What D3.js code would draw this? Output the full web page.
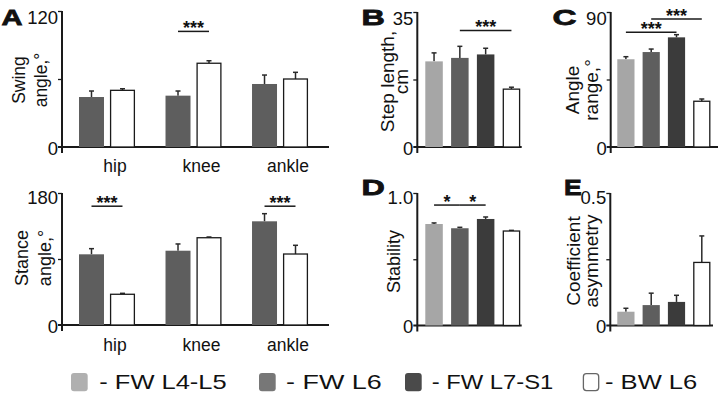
<!DOCTYPE html>
<html><head><meta charset="utf-8">
<script src="https://cdn.jsdelivr.net/npm/d3@7"></script>
<style>
body{margin:0;background:#fff}
svg{display:block}
text{font-family:"Liberation Sans",Arial,Helvetica,sans-serif;fill:#111}
</style>
</head><body>
<svg id="c" width="720" height="394"></svg>
<script>
// ---------------- DATA ----------------
const joints = ["hip", "knee", "ankle"];
const jointSeries = ["FW L6", "BW L6"];
const swingFW = [44.1, 45.3, 55.6];
const swingFWErr = [5.3, 4.1, 7.9];
const swingBW = [50.0, 73.9, 60.0];
const swingBWErr = [1.4, 2.2, 5.9];
const stanceFW = [96.4, 101.3, 141.4];
const stanceFWErr = [7.7, 9.2, 10.4];
const stanceBW = [41.9, 119.0, 96.8];
const stanceBWErr = [1.3, 1.0, 11.9];

const groups = ["FW L4-L5", "FW L6", "FW L7-S1", "BW L6"];
const stepLength = [22.2, 23.1, 24.0, 15.0];
const stepLengthErr = [2.2, 3.0, 1.6, 0.5];
const angleRange = [58.5, 63.3, 73.1, 30.5];
const angleRangeErr = [1.7, 2.0, 1.8, 1.5];
const stability = [0.766, 0.734, 0.804, 0.713];
const stabilityErr = [0.008, 0.007, 0.015, 0.005];
const asymmetry = [0.052, 0.077, 0.089, 0.238];
const asymmetryErr = [0.013, 0.045, 0.025, 0.100];

const swingTicks = [0, 60, 120];      const swingTickLabels = ["0", "", "120"];
const stanceTicks = [0, 90, 180];     const stanceTickLabels = ["0", "", "180"];
const stepTicks = [0, 17.5, 35];      const stepTickLabels = ["0", "", "35"];
const angleTicks = [0, 45, 90];       const angleTickLabels = ["0", "", "90"];
const stabTicks = [0, 0.5, 1.0];      const stabTickLabels = ["0", "", "1.0"];
const asymTicks = [0, 0.25, 0.5];     const asymTickLabels = ["0", "", "0.5"];

// significance: [category/group from, to, level (data units), label]
const swingSig = [["knee", "knee", 102, "***"]];
const stanceSig = [["hip", "hip", 162, "***"], ["ankle", "ankle", 162, "***"]];
const stepSig = [["FW L6", "BW L6", 30.2, "***"]];
const angleSig = [["FW L4-L5", "FW L7-S1", 76.5, "***"], ["FW L6", "BW L6", 85.3, "***"]];
const stabSig = [["FW L4-L5", "FW L6", 0.909, "*"], ["FW L6", "FW L7-S1", 0.909, "*"]];

// ---------------- STYLE ----------------
const barColor = {"FW L4-L5": "#a6a6a6", "FW L6": "#5e5e5e", "FW L7-S1": "#3b3b3b", "BW L6": "#ffffff"};
const legendColor = {"FW L4-L5": "#b0b0b0", "FW L6": "#777777", "FW L7-S1": "#4a4a4a", "BW L6": "#ffffff"};
const ink = "#1a1a1a";

const svg = d3.select("#c");

function drawAxes(y, ax, xEnd, ticks, labels, topDy) {
  const g = svg.append("g").attr("transform", `translate(${ax},0)`);
  g.call(d3.axisLeft(y).tickValues(ticks).tickSize(4).tickSizeOuter(0).tickPadding(0)
    .tickFormat((d, i) => labels[i]));
  g.select(".domain").remove();
  g.selectAll(".tick line").attr("stroke", ink).attr("stroke-width", 1.3)
    .attr("display", d => d === 0 ? "none" : null);
  g.selectAll(".tick text").attr("font-size", 18.5).attr("fill", "#111")
    .attr("font-family", '"Liberation Sans",Arial,sans-serif')
    .attr("x", -4)
    .attr("dy", (d, i) => i === 0 ? 7 : (i === ticks.length - 1 ? topDy : 0));
  const [r0, r1] = y.range();
  svg.append("line").attr("x1", ax).attr("x2", ax).attr("y1", r0 + 6).attr("y2", r1)
    .attr("stroke", ink).attr("stroke-width", 2);
  svg.append("line").attr("x1", ax - 4).attr("x2", xEnd).attr("y1", r0).attr("y2", r0)
    .attr("stroke", ink).attr("stroke-width", 2);
}

function bar(x, w, y, v, err, fill) {
  const y0 = y.range()[0];
  const cx = x + w / 2;
  svg.append("line").attr("x1", cx).attr("x2", cx).attr("y1", y(v)).attr("y2", y(v + err))
    .attr("stroke", "#2a2a2a").attr("stroke-width", 1.5);
  svg.append("line").attr("x1", cx - 2.5).attr("x2", cx + 2.5).attr("y1", y(v + err)).attr("y2", y(v + err))
    .attr("stroke", "#2a2a2a").attr("stroke-width", 1.5);
  const white = fill === "#ffffff";
  svg.append("rect").attr("x", white ? x + 0.6 : x).attr("y", y(v))
    .attr("width", white ? w - 1.2 : w).attr("height", y0 - y(v))
    .attr("fill", fill).attr("stroke", white ? ink : "none").attr("stroke-width", 1.3);
}

function sig(x1, x2, yy, label) {
  svg.append("line").attr("x1", x1).attr("x2", x2).attr("y1", yy).attr("y2", yy)
    .attr("stroke", ink).attr("stroke-width", 1.5);
  svg.append("text").attr("x", (x1 + x2) / 2).attr("y", yy + 2.5).attr("text-anchor", "middle")
    .attr("font-size", 18).attr("font-weight", "bold").text(label);
}

function yTitle(lines, cx, cy, size) {
  lines.forEach(([t, bx]) => {
    svg.append("text").attr("transform", `translate(${bx},${cy}) rotate(-90)`)
      .attr("text-anchor", "middle").attr("font-size", size).text(t);
  });
}

function letter(t, x, yb, len) {
  svg.append("text").attr("x", x).attr("y", yb).attr("font-size", 22.5).attr("font-weight", "bold")
    .attr("stroke", "#111").attr("stroke-width", 0.8)
    .attr("textLength", len).attr("lengthAdjust", "spacingAndGlyphs").text(t);
}

// ---------------- PANEL A ----------------
const xJ = d3.scaleBand().domain(joints).range([79, 308]).paddingInner(0.353).paddingOuter(0);
const xJs = d3.scaleBand().domain(jointSeries).range([0, xJ.bandwidth()]).paddingInner(0.1935).paddingOuter(0);

function jointPanel(y, fw, fwErr, bw, bwErr, ticks, labels, topDy, sigs, labelY) {
  drawAxes(y, 62, 329, ticks, labels, topDy);
  joints.forEach((j, i) => {
    bar(xJ(j) + xJs("FW L6"), xJs.bandwidth(), y, fw[i], fwErr[i], barColor["FW L6"]);
    bar(xJ(j) + xJs("BW L6"), xJs.bandwidth(), y, bw[i], bwErr[i], barColor["BW L6"]);
    svg.append("text").attr("x", xJ(j) + xJ.bandwidth() / 2 + 8).attr("y", labelY)
      .attr("text-anchor", "middle").attr("font-size", 17.5).text(j);
  });
  sigs.forEach(([a, b, lv, lab]) => {
    const x1 = xJ(a) + xJs("FW L6") + xJs.bandwidth() / 2;
    const x2 = xJ(b) + xJs("BW L6") + xJs.bandwidth() / 2;
    sig(x1, x2, y(lv), lab);
  });
}

const ySwing = d3.scaleLinear().domain([0, 120]).range([147, 11]);
jointPanel(ySwing, swingFW, swingFWErr, swingBW, swingBWErr, swingTicks, swingTickLabels, 12.5, swingSig, 171.5);
yTitle([["Swing", 24.5], ["angle,°", 47]], 0, 80, 17.5);
letter("A", 1.5, 25, 21);

const yStance = d3.scaleLinear().domain([0, 180]).range([325, 193]);
jointPanel(yStance, stanceFW, stanceFWErr, stanceBW, stanceBWErr, stanceTicks, stanceTickLabels, 10, stanceSig, 351);
yTitle([["Stance", 28], ["angle,°", 51]], 0, 258, 18);

// ---------------- PANELS B-E ----------------
function groupPanel(y, vals, errs, ticks, labels, topDy, sigs, ax, xEnd, x0, step, bw) {
  const x = d3.scaleBand().domain(groups).range([x0, x0 + 3 * step + bw])
    .paddingInner(1 - bw / step).paddingOuter(0);
  drawAxes(y, ax, xEnd, ticks, labels, topDy);
  groups.forEach((gname, i) => bar(x(gname), x.bandwidth(), y, vals[i], errs[i], barColor[gname]));
  sigs.forEach(([a, b, lv, lab]) => sig(x(a) + x.bandwidth() / 2, x(b) + x.bandwidth() / 2, y(lv), lab));
}

const yStep = d3.scaleLinear().domain([0, 35]).range([147, 12]);
groupPanel(yStep, stepLength, stepLengthErr, stepTicks, stepTickLabels, 12.5, stepSig, 417.3, 521.7, 425.3, 25.8, 17.5);
yTitle([["Step length,", 393.5], ["cm", 407.5]], 0, 81.5, 19);
letter("B", 361.5, 25, 23.3);

const yAngle = d3.scaleLinear().domain([0, 90]).range([147, 12]);
groupPanel(yAngle, angleRange, angleRangeErr, angleTicks, angleTickLabels, 12.5, angleSig, 610.7, 718, 617.3, 25.3, 17.2);
yTitle([["Angle", 578.5], ["range,°", 598]], 0, 90, 19);
letter("C", 552.5, 24.5, 24);

const yStab = d3.scaleLinear().domain([0, 1]).range([325.5, 193]);
groupPanel(yStab, stability, stabilityErr, stabTicks, stabTickLabels, 10, stabSig, 417.3, 521.7, 425.3, 25.8, 17.5);
yTitle([["Stability", 399.5]], 0, 261.5, 18);
letter("D", 361.5, 195, 23.3);

const yAsym = d3.scaleLinear().domain([0, 0.5]).range([325.5, 193]);
groupPanel(yAsym, asymmetry, asymmetryErr, asymTicks, asymTickLabels, 10, [], 610.3, 713, 617.3, 25.3, 17.2);
yTitle([["Coefficient", 580], ["asymmetry", 598]], 0, 261, 19);
letter("E", 564, 195, 17.7);

// ---------------- LEGEND ----------------
const legendX = [71, 259, 405, 582.7];
const legendTextX = [99.3, 286, 431.7, 605];
const legendTextLen = [127.4, 95.7, 121.6, 92.3];
groups.forEach((gname, i) => {
  const white = gname === "BW L6";
  svg.append("rect").attr("x", legendX[i] + (white ? 0.7 : 0)).attr("y", 373 + (white ? 0.7 : 0))
    .attr("width", 16.7 - (white ? 1.4 : 0)).attr("height", 18.3 - (white ? 1.4 : 0))
    .attr("rx", 3).attr("fill", legendColor[gname])
    .attr("stroke", white ? "#666" : "none").attr("stroke-width", 1.3);
  svg.append("text").attr("x", legendTextX[i]).attr("y", 389.3).attr("font-size", 21)
    .attr("fill", "#1a1a1a")
    .attr("textLength", legendTextLen[i]).attr("lengthAdjust", "spacingAndGlyphs")
    .text("- " + gname);
});
</script>
</body></html>
